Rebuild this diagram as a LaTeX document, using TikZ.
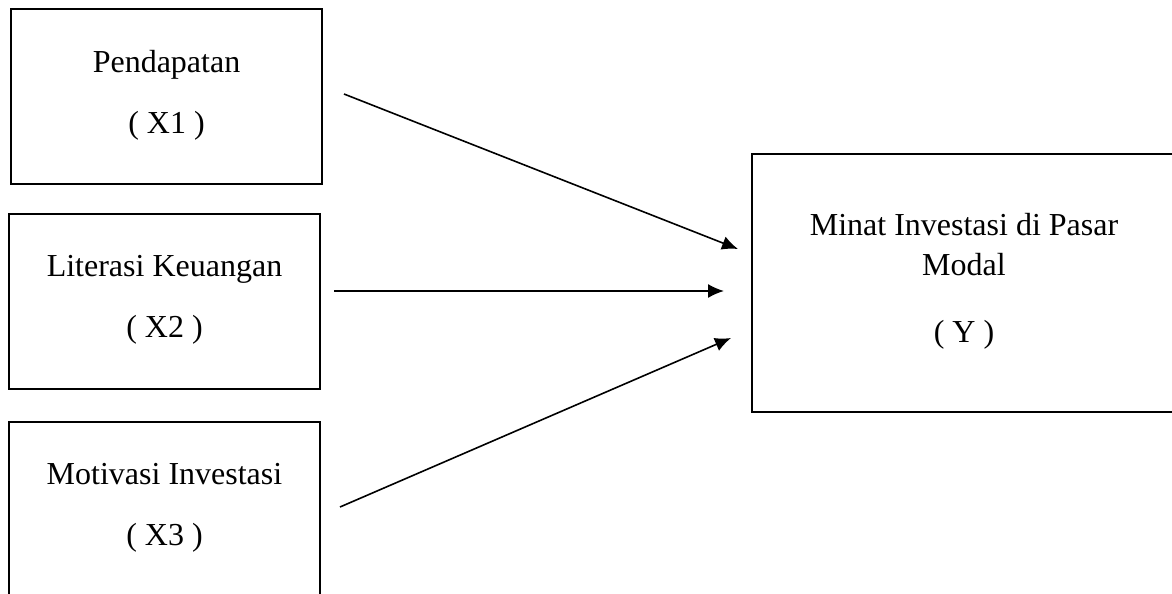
\documentclass[tikz,border=0pt]{standalone}
\usepackage{fontspec}
\setmainfont{Liberation Serif}
\usetikzlibrary{arrows.meta}

\begin{document}
\begin{tikzpicture}[x=0.5pt, y=-0.5pt, thick, >={Latex[length=8pt,width=7pt]},
    main/.style = {draw, line width=1pt, rectangle, inner sep=0pt, align=center, minimum width=155.5pt, minimum height=87.5pt, font=\fontsize{16}{20}\selectfont}]
                \useasboundingbox (0,0) rectangle (1172,594);
                \node[main] (1) at (166.5,96.5) {Pendapatan\\[10.5pt]( X1 )\\[-15pt]\mbox{}};
                \node[main] (2) at (164.5,301) {Literasi Keuangan\\[10.5pt]( X2 )\\[-15pt]\mbox{}};
                \node[main] (3) at (164.5,509) {Motivasi Investasi\\[10.5pt]( X3 )\\[-15pt]\mbox{}};
                \node[main, minimum width=212pt, minimum height=129pt] (y) at (964,283) {Minat Investasi di Pasar\\Modal\\[13.5pt]( Y )\\[-15pt]\mbox{}};
                \coordinate (s1) at (344,94);
                \coordinate (e1) at (738,249);
                \coordinate (s2) at (334,291);
                \coordinate (e2) at (724,291);
                \coordinate (s3) at (340,507);
                \coordinate (e3) at (731,338);
                \draw[->] (s1) to (e1);
                \draw[->] (s2) to (e2);
                \draw[->] (s3) to (e3);
            \end{tikzpicture}
\end{document}
